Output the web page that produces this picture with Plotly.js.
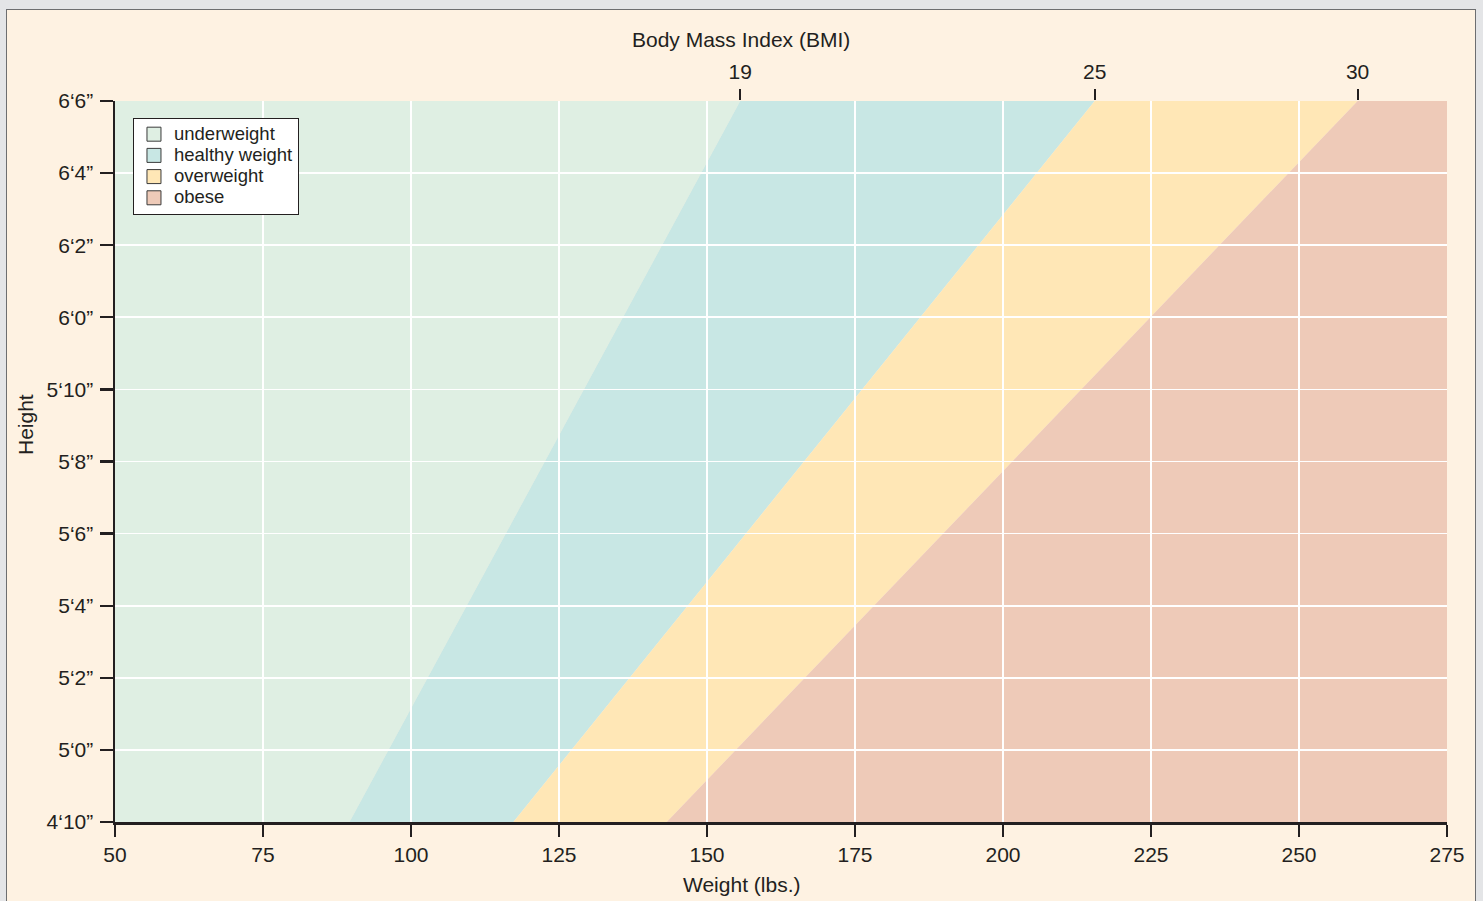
<!DOCTYPE html>
<html><head><meta charset="utf-8">
<script src="https://cdn.plot.ly/plotly-3.0.1.min.js"></script>
<style>
html,body{margin:0;padding:0;background:#e4e5e7;width:1483px;height:901px;overflow:hidden;}
#panel{position:absolute;left:6px;top:9px;width:1470px;height:900px;background:#fef2e2;border:1px solid #6d6e70;box-sizing:border-box;}
#chart{position:absolute;left:0;top:0;width:1483px;height:901px;}
</style></head><body>
<div id="panel"></div><div id="chart"></div>
<script>
// ---- data ----
const categories = ['underweight', 'healthy weight', 'overweight', 'obese'];
const bandColors = ['#dfefe3', '#c8e7e4', '#ffe7b6', '#eecab8'];
const bmiLabels = ['19', '25', '30'];
const heightRange = [58, 78];                 // inches: 4'10" .. 6'6"
const bmiWeightAtMinHeight = [89.6, 117.3, 143.2];  // lbs at 4'10"
const bmiWeightAtMaxHeight = [155.6, 215.5, 259.9]; // lbs at 6'6"
const weightRange = [50, 275];
const weightTicks = [50, 75, 100, 125, 150, 175, 200, 225, 250, 275];
const heightTicks = [58, 60, 62, 64, 66, 68, 70, 72, 74, 76, 78];
const heightTickLabels = ['4‘10”', '5‘0”', '5‘2”', '5‘4”', '5‘6”', '5‘8”', '5‘10”', '6‘0”', '6‘2”', '6‘4”', '6‘6”'];
const xTitle = 'Weight (lbs.)';
const yTitle = 'Height';
const topTitle = 'Body Mass Index (BMI)';

const ink = '#231f20';
const font = 'Liberation Sans, Arial, Helvetica, sans-serif';

// band polygons as shapes (below the grid)
const shapes = categories.map((c, i) => {
  const l0 = i === 0 ? weightRange[0] : bmiWeightAtMinHeight[i - 1];
  const l1 = i === 0 ? weightRange[0] : bmiWeightAtMaxHeight[i - 1];
  const r0 = i === categories.length - 1 ? weightRange[1] : bmiWeightAtMinHeight[i];
  const r1 = i === categories.length - 1 ? weightRange[1] : bmiWeightAtMaxHeight[i];
  const h0 = heightRange[0], h1 = heightRange[1];
  return {
    type: 'path', xref: 'x', yref: 'y', layer: 'below',
    path: `M ${l0},${h0} L ${r0},${h0} L ${r1},${h1} L ${l1},${h1} Z`,
    fillcolor: bandColors[i], line: {width: 0}
  };
});

const traces = categories.map((c, i) => ({
  type: 'scatter', mode: 'markers',
  name: `<span style="font-size:18.5px">${c}</span>`,
  x: [null], y: [null],
  marker: {symbol: 'square', size: 14, color: bandColors[i], line: {color: '#3a3a3a', width: 1}},
  hoverinfo: 'skip'
}));
traces.push({
  type: 'scatter', mode: 'markers', xaxis: 'x2', yaxis: 'y',
  x: bmiWeightAtMaxHeight, y: bmiWeightAtMaxHeight.map(() => heightRange[1]),
  marker: {opacity: 0, size: 1}, showlegend: false, hoverinfo: 'skip'
});

const titleFont = {size: 21, family: font, color: ink};
const annotations = [
  {text: topTitle, xref: 'paper', yref: 'paper', x: 0.47, y: (822 - 39) / 721,
   xanchor: 'center', yanchor: 'middle', showarrow: false, font: titleFont},
  {text: xTitle, xref: 'paper', yref: 'paper', x: 0.47, y: (822 - 884) / 721,
   xanchor: 'center', yanchor: 'middle', showarrow: false, font: titleFont},
  {text: yTitle, xref: 'paper', yref: 'paper', x: (25 - 115) / 1332, y: (822 - 425) / 721,
   xanchor: 'center', yanchor: 'middle', textangle: -90, showarrow: false, font: titleFont}
];

const layout = {
  width: 1483, height: 901,
  margin: {l: 115, r: 36, t: 101, b: 79},
  paper_bgcolor: 'rgba(0,0,0,0)',
  plot_bgcolor: 'rgba(0,0,0,0)',
  font: {family: font, color: ink, size: 21},
  showlegend: true,
  legend: {
    x: 0.0135, y: 0.977, xanchor: 'left', yanchor: 'top',
    bgcolor: '#ffffff', bordercolor: ink, borderwidth: 1,
    font: {family: font, size: 14, color: ink},
    itemwidth: 30, tracegroupgap: 0
  },
  shapes: shapes,
  annotations: annotations,
  xaxis: {
    range: weightRange, tickvals: weightTicks, ticktext: weightTicks.map(String),
    showgrid: true, gridcolor: '#ffffff', gridwidth: 1.8,
    zeroline: false, showline: true, linecolor: ink, linewidth: 2.5,
    ticks: 'outside', ticklen: 12, tickwidth: 2.2, tickcolor: ink,
    tickfont: {size: 21, family: font, color: ink},
    automargin: false, fixedrange: true
  },
  xaxis2: {
    overlaying: 'x', side: 'top', anchor: 'y',
    range: weightRange, tickvals: bmiWeightAtMaxHeight, ticktext: bmiLabels,
    showgrid: false, zeroline: false, showline: false,
    ticks: 'outside', ticklen: 11, tickwidth: 2, tickcolor: ink,
    ticklabelstandoff: 2,
    tickfont: {size: 21, family: font, color: ink},
    automargin: false, fixedrange: true
  },
  yaxis: {
    range: heightRange, tickvals: heightTicks, ticktext: heightTickLabels,
    showgrid: true, gridcolor: '#ffffff', gridwidth: 1.8,
    zeroline: false, showline: true, linecolor: ink, linewidth: 2.5,
    ticks: 'outside', ticklen: 13, tickwidth: 2.2, tickcolor: ink,
    ticklabelstandoff: 2,
    tickfont: {size: 21, family: font, color: ink},
    automargin: false, fixedrange: true
  }
};

Plotly.newPlot('chart', traces, layout, {displayModeBar: false, staticPlot: true});
</script>
</body></html>
